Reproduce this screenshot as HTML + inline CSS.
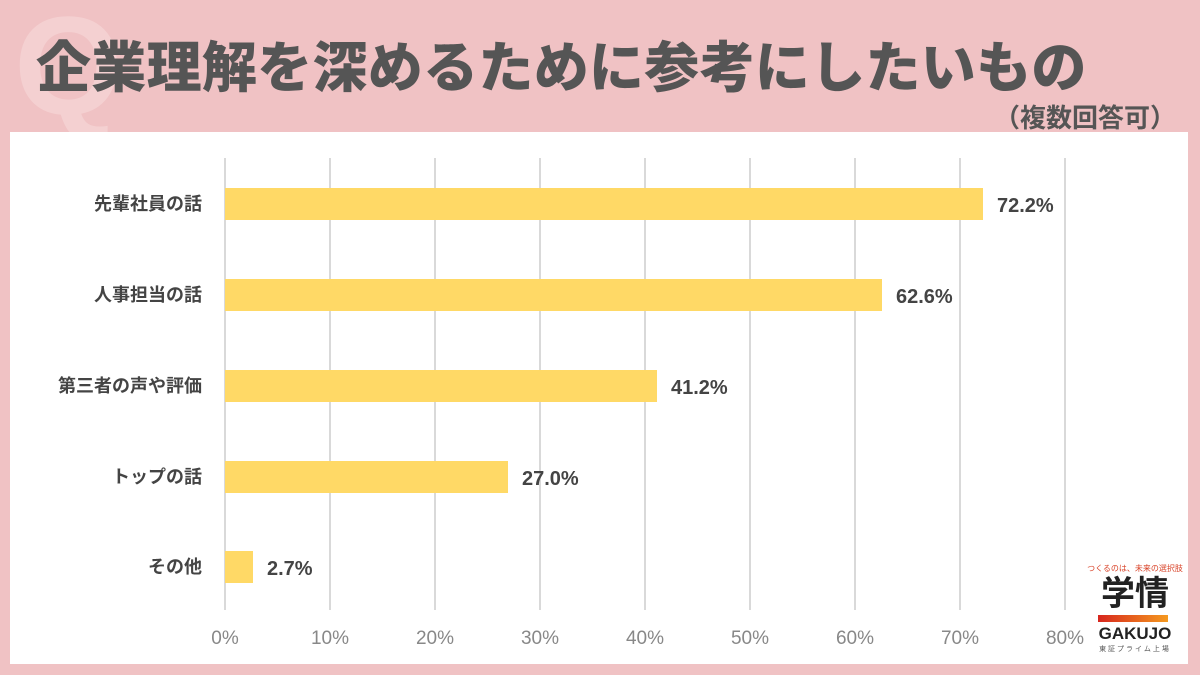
<!DOCTYPE html>
<html><head><meta charset="utf-8"><style>
body{margin:0;width:1200px;height:675px;background:#f0c2c4;position:relative;overflow:hidden;font-family:"Liberation Sans","Noto Sans CJK JP",sans-serif;}
.q{position:absolute;left:14px;top:-4px;font-size:140px;font-weight:bold;color:#f4d0d1;font-family:"Liberation Sans",sans-serif;line-height:1}
.title{position:absolute;left:36px;top:33px;font-size:55px;font-weight:900;color:#555;letter-spacing:0.3px;white-space:nowrap;line-height:70px}
.sub{position:absolute;right:24px;top:98px;font-size:26px;font-weight:bold;color:#555}
.panel{position:absolute;left:10px;top:132px;width:1178px;height:532px;background:#fff}
.grid{position:absolute;top:158px;height:452px;width:2px;background:#d9d9d9}
.bar{position:absolute;left:225px;height:32px;background:#ffd966}
.lab{position:absolute;right:998px;font-size:18px;font-weight:bold;color:#444;white-space:nowrap;line-height:32px}
.val{position:absolute;font-size:20px;font-weight:bold;color:#444;line-height:32px}
.tick{position:absolute;top:628px;font-size:19px;color:#888;width:60px;text-align:center;margin-left:-30px}
</style></head><body>
<div class="q">Q</div>
<div class="title">企業理解を深めるために参考にしたいもの</div>
<div class="sub">（複数回答可）</div>
<div class="panel"></div>
<div class="grid" style="left:224px"></div><div class="grid" style="left:329px"></div><div class="grid" style="left:434px"></div><div class="grid" style="left:539px"></div><div class="grid" style="left:644px"></div><div class="grid" style="left:749px"></div><div class="grid" style="left:854px"></div><div class="grid" style="left:959px"></div><div class="grid" style="left:1064px"></div>
<div class="bar" style="top:188px;width:758px"></div><div class="lab" style="top:188px">先輩社員の話</div><div class="val" style="top:190px;left:997px">72.2%</div>
<div class="bar" style="top:279px;width:657px"></div><div class="lab" style="top:279px">人事担当の話</div><div class="val" style="top:281px;left:896px">62.6%</div>
<div class="bar" style="top:370px;width:432px"></div><div class="lab" style="top:370px">第三者の声や評価</div><div class="val" style="top:372px;left:671px">41.2%</div>
<div class="bar" style="top:461px;width:283px"></div><div class="lab" style="top:461px">トップの話</div><div class="val" style="top:463px;left:522px">27.0%</div>
<div class="bar" style="top:551px;width:28px"></div><div class="lab" style="top:551px">その他</div><div class="val" style="top:553px;left:267px">2.7%</div>
<div class="tick" style="left:225px">0%</div><div class="tick" style="left:330px">10%</div><div class="tick" style="left:435px">20%</div><div class="tick" style="left:540px">30%</div><div class="tick" style="left:645px">40%</div><div class="tick" style="left:750px">50%</div><div class="tick" style="left:855px">60%</div><div class="tick" style="left:960px">70%</div><div class="tick" style="left:1065px">80%</div>
<div style="position:absolute;left:1088px;top:562px;width:100px;height:100px;background:#fff"></div>
<div style="position:absolute;left:1085px;top:563px;width:100px;text-align:center;font-size:8px;color:#d9442a">つくるのは、未来の選択肢</div>
<div style="position:absolute;left:1090px;top:574px;width:90px;text-align:center;font-size:34px;font-weight:bold;color:#222;line-height:40px">学情</div>
<div style="position:absolute;left:1098px;top:615px;width:70px;height:7px;background:linear-gradient(90deg,#d7261e,#f59a1f)"></div>
<div style="position:absolute;left:1090px;top:624px;width:90px;text-align:center;font-size:17px;font-weight:bold;color:#222">GAKUJO</div>
<div style="position:absolute;left:1090px;top:644px;width:90px;text-align:center;font-size:7px;color:#555;letter-spacing:2px">東証プライム上場</div>
</body></html>
